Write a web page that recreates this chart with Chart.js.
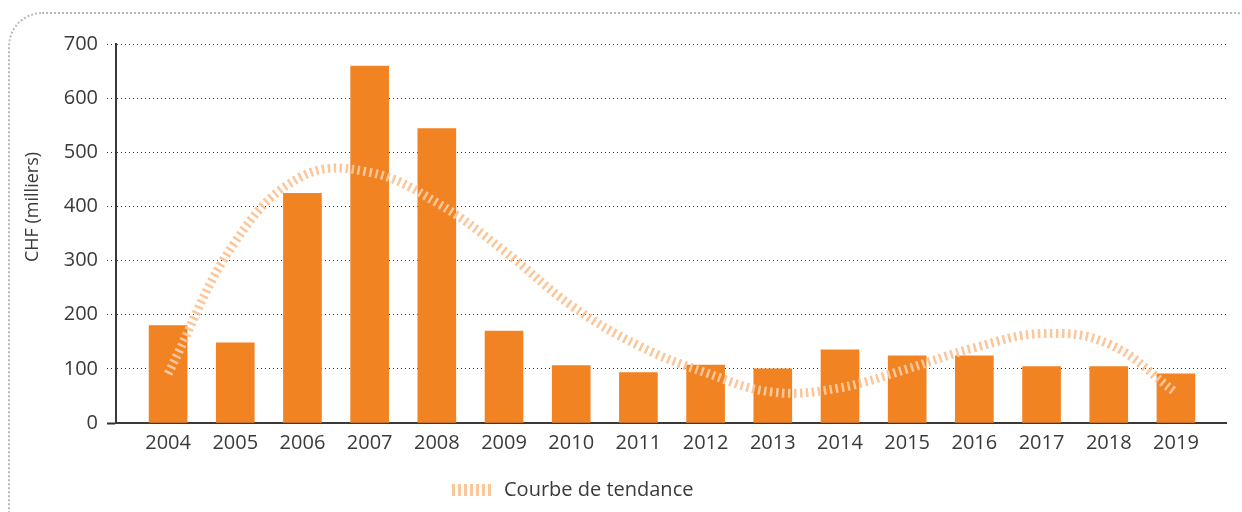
<!DOCTYPE html>
<html>
<head>
<meta charset="utf-8">
<script src="https://cdn.jsdelivr.net/npm/chart.js@4.4.1/dist/chart.umd.min.js"></script>
<style>
html, body { margin: 0; padding: 0; background: #fff; overflow: hidden; }
#wrap { position: relative; width: 1242px; height: 512px; overflow: hidden; }
#frame {
    position: absolute; left: 8px; top: 12px; width: 1262px; height: 540px;
    border: 2px dotted #b8b8b8; border-radius: 34px; box-sizing: border-box;
}
canvas { position: absolute; left: 0; top: 0; }
</style>
</head>
<body>
<div id="wrap">
    <div id="frame"></div>
    <canvas id="chf-chart" width="1242" height="512"></canvas>
</div>
<script>
const years = [2004, 2005, 2006, 2007, 2008, 2009, 2010, 2011, 2012, 2013, 2014, 2015, 2016, 2017, 2018, 2019];
const amounts = [180, 148, 424, 659, 544, 170, 106, 93, 107, 100, 135, 124, 124, 104, 104, 91];
const trend = [91, 335, 456, 463, 407, 318, 217, 143, 93, 57, 65, 100, 139, 165, 146, 56];
const yTicks = [0, 100, 200, 300, 400, 500, 600, 700];
const trendLabel = 'Courbe de tendance';
const axisTitle = 'CHF (milliers)';

const fontFamily = '"Open Sans", "Noto Sans", sans-serif';
const textColor = '#3a3a3a';
const barColor = '#f28322';
const trendColor = '#fbc69a';

// little striped swatch for the legend
const swatch = document.createElement('canvas');
swatch.width = 42;
swatch.height = 12;
const sctx = swatch.getContext('2d');
sctx.fillStyle = trendColor;
for (let x = 0; x < 42; x += 6) sctx.fillRect(x, 0, 3, 12);

const yTitle = {
    id: 'yTitle',
    afterDraw(chart) {
        const c = chart.ctx;
        c.save();
        c.translate(33, 207);
        c.rotate(-Math.PI / 2);
        c.font = '18px ' + fontFamily;
        c.fillStyle = textColor;
        c.textAlign = 'center';
        c.textBaseline = 'middle';
        c.fillText(axisTitle, 0, 0);
        c.restore();
    }
};

const moveLegend = {
    id: 'moveLegend',
    afterLayout(chart) {
        const l = chart.legend;
        const w = l.width;
        l.left = 442;
        l.right = 442 + w;
    }
};

new Chart(document.getElementById('chf-chart'), {
    type: 'bar',
    data: {
        datasets: [{
            type: 'line',
            label: trendLabel,
            data: years.map((y, i) => ({ x: y, y: trend[i] })),
            borderColor: trendColor,
            borderWidth: 9,
            borderDash: [2.5, 3.5],
            borderCapStyle: 'butt',
            tension: 0.4,
            pointRadius: 0,
            fill: false,
            order: 0
        }, {
            type: 'bar',
            label: 'CHF',
            data: years.map((y, i) => ({ x: y, y: amounts[i] })),
            backgroundColor: barColor,
            barThickness: 38,
            order: 1
        }]
    },
    options: {
        responsive: false,
        devicePixelRatio: 1,
        animation: false,
        layout: { padding: { top: 44, right: 16, left: 0, bottom: 2 } },
        plugins: {
            tooltip: { enabled: false },
            legend: {
                position: 'bottom',
                align: 'start',
                labels: {
                    usePointStyle: true,
                    pointStyleWidth: 42,
                    boxHeight: 12,
                    padding: 10,
                    color: textColor,
                    font: { family: fontFamily, size: 20 },
                    generateLabels: () => [{
                        text: trendLabel,
                        pointStyle: swatch,
                        fillStyle: trendColor,
                        strokeStyle: trendColor,
                        lineWidth: 0,
                        hidden: false,
                        datasetIndex: 0,
                        fontColor: textColor
                    }]
                }
            }
        },
        scales: {
            x: {
                type: 'linear',
                offset: false,
                min: 2003.225,
                max: 2019.745,
                afterBuildTicks: s => { s.ticks = years.map(v => ({ value: v })); },
                afterFit: s => { s.height = 47; },
                grid: { display: false, offset: false, drawTicks: false },
                border: { display: true, color: '#3a3a3a', width: 2 },
                ticks: {
                    padding: 8,
                    color: textColor,
                    font: { family: fontFamily, size: 20 },
                    maxRotation: 0,
                    autoSkip: false,
                    callback: v => String(v)
                }
            },
            y: {
                min: 0,
                max: 700,
                afterBuildTicks: s => { s.ticks = yTicks.map(v => ({ value: v })); },
                afterFit: s => { s.width = 116; },
                grid: {
                    color: '#333',
                    lineWidth: 1,
                    tickLength: 9,
                    tickColor: '#333',
                    tickWidth: ctx => ctx.tick && ctx.tick.value === 0 ? 2 : 1,
                    tickBorderDash: ctx => ctx.tick && ctx.tick.value === 0 ? [] : [1, 3]
                },
                border: { display: true, color: '#3a3a3a', width: 2, dash: [1, 3] },
                ticks: {
                    padding: 9,
                    color: textColor,
                    font: { family: fontFamily, size: 20 }
                }
            }
        }
    },
    plugins: [yTitle, moveLegend]
});
</script>
</body>
</html>
